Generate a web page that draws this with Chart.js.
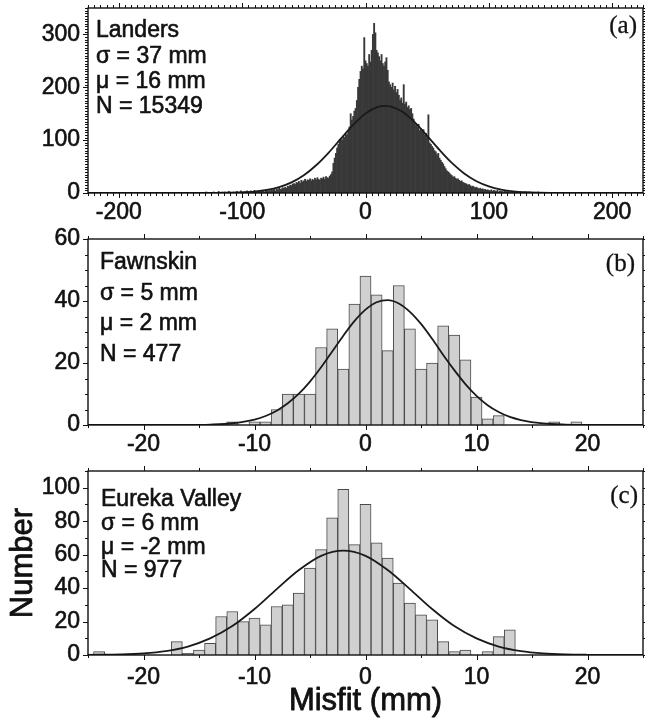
<!DOCTYPE html>
<html>
<head>
<meta charset="utf-8">
<script src="https://cdn.jsdelivr.net/npm/chart.js@4.4.1/dist/chart.umd.min.js"></script>
<style>
  html, body { margin: 0; padding: 0; background: #fff; }
  #wrap { position: relative; width: 645px; height: 719px; overflow: hidden; background: #fff; }
  #wrap canvas { position: absolute; left: 0; }
</style>
</head>
<body>
<div id="wrap">
  <canvas id="panelA" width="645" height="225" style="top:0px"></canvas>
  <canvas id="panelB" width="645" height="231" style="top:225px"></canvas>
  <canvas id="panelC" width="645" height="263" style="top:456px"></canvas>
</div>
<script>
// ---------- Landers (1 mm bins, first bin centred on -135 mm) ----------
const landersFirstBin = -135;
const landersCounts = [
  0,1,0,0,1,0,2,0,1,0,
  1,0,2,1,0,1,3,1,0,2,
  1,2,0,1,3,2,1,0,2,1,
  2,3,1,2,4,2,1,3,2,4,
  3,2,4,1,3,5,2,3,4,2,
  4,3,5,2,4,6,3,5,4,6,
  5,7,4,8,6,9,7,8,10,9,
  11,9,13,12,15,14,17,18,16,20,
  19,22,18,24,21,23,26,22,25,24,
  27,23,26,24,28,25,29,26,24,28,
  27,30,26,31,29,28,32,35,40,56,
  66,75,85,92,98,103,100,108,105,112,
  110,118,125,150,138,145,155,160,175,200,
  215,230,240,235,294,250,245,240,262,248,
  270,300,321,303,270,265,258,250,262,245,
  240,248,256,232,210,205,200,208,195,202,
  190,196,185,176,180,170,205,168,172,162,
  165,158,160,150,140,132,128,125,130,118,
  122,115,120,110,113,105,148,95,92,88,
  85,80,78,72,75,66,62,58,55,50,
  46,42,40,38,35,33,30,31,28,26,
  27,24,22,23,20,19,18,17,15,16,
  14,12,13,11,10,11,9,8,9,7,
  8,6,7,5,6,5,4,6,3,5,
  4,3,5,2,4,3,3,2,4,2,
  3,2,1,3,2,2,1,3,1,2,
  1,2,1,0,2,1,1,0,2,1,
  1,0,1,1,0,2,0,1,0,1,
  0,1,0,0,1,0,1,0,0,1,
  0,0,1,0,0,1,0,0,0,1,
  0,0,0,1,0,0,0,0,1,0
];
const landersBins = landersCounts.map((_, i) => landersFirstBin + i);
const landersFitX = [-225,-200,-180,-160,-140,-130,-120,-110,-100,-90,-80,-70,-60,-50,-40,-30,-20,-10,0,10,16,20,30,40,50,60,70,80,90,100,110,120,130,140,150,160,180,200,225];
const landersFitY = [0,0,0,0,0.02,0.07,0.19,0.5,1.2,2.7,5.7,11.1,20.0,33.6,52.5,76.1,102.7,128.7,150.3,162.8,165,164.0,153.6,133.7,108.1,81.4,56.9,37.0,22.3,12.6,6.5,3.1,1.4,0.6,0.23,0.08,0,0,0];
const landersText = ['Landers', 'σ = 37 mm', 'μ = 16 mm', 'N = 15349'];
const landersXTicks = [-200, -100, 0, 100, 200];
const landersYTicks = [0, 100, 200, 300];

// ---------- Fawnskin ----------
const fawnBins   = [-12,-10,-9,-8,-7,-6,-5,-4,-3,-2,-1,0,1,2,3,4,5,6,7,8,9,10,11,12,17,19];
const fawnCounts = [1,1,1,5,10,10,10,25,31,18,39,48,42,24,45,31,18,20,32,29,21,9,2,3,1,1];
const fawnFitX = [-25,-20,-16,-14,-12,-10,-9,-8,-7,-6,-5,-4,-3,-2,-1,0,1,2,3,4,5,6,7,8,9,10,11,12,13,14,16,18,20,25];
const fawnFitY = [0,0,0.03,0.15,0.56,1.75,2.9,4.6,7.0,10.1,14.0,18.6,23.7,28.8,33.5,37.2,39.6,40.3,39.2,36.5,32.6,27.8,22.6,17.7,13.2,9.4,6.4,4.2,2.6,1.6,0.5,0.13,0.03,0];
const fawnText = ['Fawnskin', 'σ = 5 mm', 'μ = 2 mm', 'N = 477'];
const fawnXTicks = [-20, -10, 0, 10, 20];
const fawnYTicks = [0, 20, 40, 60];

// ---------- Eureka Valley ----------
const eurekaBins   = [-24,-17,-16,-15,-14,-13,-12,-11,-10,-9,-8,-7,-6,-5,-4,-3,-2,-1,0,1,2,3,4,5,6,7,8,9,11,12,13];
const eurekaCounts = [2,8,1,3,7,23,26,20,22,18,29,30,37,52,63,82,99,66,90,67,58,43,31,24,21,8,2,3,2,11,15];
const eurekaFitX = [-25,-22,-20,-18,-16,-14,-12,-10,-8,-6,-4,-2,0,2,4,6,8,10,12,14,16,18,20,22,25];
const eurekaFitY = [0.1,0.37,0.98,2.35,5.07,9.9,17.3,27.5,39.4,50.8,59.3,62.4,59.3,50.8,39.4,27.5,17.3,9.9,5.07,2.35,0.98,0.37,0.13,0.04,0];
const eurekaText = ['Eureka Valley', 'σ = 6 mm', 'μ = -2 mm', 'N = 977'];
const eurekaXTicks = [-20, -10, 0, 10, 20];
const eurekaYTicks = [0, 20, 40, 60, 80, 100];

const SANS = "'Liberation Sans', Arial, Helvetica, sans-serif";
const SERIF = "'Liberation Serif', 'Times New Roman', serif";
const INK = '#111';
const TEXT_STROKE = 0.6;

// Box frame around the plot area plus outward major/minor tick marks on all four sides.
const frameTicks = {
  id: 'frameTicks',
  afterDatasetsDraw(chart, args, o) {
    const { ctx, chartArea: a, scales: { x, y } } = chart;
    ctx.save();
    ctx.strokeStyle = INK;
    ctx.lineWidth = 1;
    const seg = (x1, y1, x2, y2) => { ctx.beginPath(); ctx.moveTo(x1, y1); ctx.lineTo(x2, y2); ctx.stroke(); };
    const isMajor = (v, step) => Math.abs(Math.round(v / step) * step - v) < 1e-6;
    for (let v = x.min; v <= x.max + 1e-9; v += o.xMinor) {
      const vv = Math.round(v * 1000) / 1000;
      if (Math.abs(vv % o.xMinor) > 1e-6) continue;
      const px = Math.round(x.getPixelForValue(vv)) + 0.5;
      const len = isMajor(vv, o.xMajor) ? o.majorLen : o.minorLen;
      seg(px, a.bottom, px, a.bottom + len);
      seg(px, a.top, px, a.top - len);
    }
    for (let v = y.min; v <= y.max + 1e-9; v += o.yMinor) {
      const py = Math.round(y.getPixelForValue(v)) + 0.5;
      const len = isMajor(v, o.yMajor) ? o.majorLen : o.minorLen;
      seg(a.left, py, a.left - len, py);
      seg(a.right, py, a.right + len, py);
    }
    ctx.lineWidth = 1.4;
    ctx.strokeRect(a.left, a.top, a.right - a.left, a.bottom - a.top);
    ctx.restore();
  }
};

// Site statistics block (top-left), panel tag (top-right) and the shared axis titles.
const panelText = {
  id: 'panelText',
  afterDraw(chart, args, o) {
    const { ctx, chartArea: a } = chart;
    const put = (t, x, y) => { ctx.strokeText(t, x, y); ctx.fillText(t, x, y); };
    ctx.save();
    ctx.fillStyle = INK;
    ctx.strokeStyle = INK;
    ctx.lineWidth = TEXT_STROKE;
    ctx.lineJoin = 'round';
    ctx.textBaseline = 'middle';
    ctx.textAlign = 'left';
    ctx.font = `23px ${SANS}`;
    o.lines.forEach((t, i) => put(t, a.left + o.dx, a.top + o.dy + i * o.gap));
    ctx.textAlign = 'right';
    ctx.lineWidth = 0.3;
    ctx.font = `25px ${SERIF}`;
    put(o.tag, a.right - o.tagDx, a.top + o.tagDy);
    ctx.lineWidth = TEXT_STROKE + 0.2;
    ctx.font = `31px ${SANS}`;
    ctx.textAlign = 'center';
    if (o.xTitle) put(o.xTitle, (a.left + a.right) / 2, a.bottom + o.xTitleDy);
    if (o.yTitle) {
      ctx.translate(o.yTitleX, (a.top + a.bottom) / 2);
      ctx.rotate(-Math.PI / 2);
      put(o.yTitle, 0, 0);
    }
    ctx.restore();
  }
};

function histogramPanel(id, c) {
  const tickFont = { family: SANS, size: 23 };
  return new Chart(document.getElementById(id), {
    type: 'bar',
    data: {
      datasets: [
        {
          type: 'line',
          data: c.fitX.map((x, i) => ({ x, y: c.fitY[i] })),
          borderColor: '#1a1a1a',
          borderWidth: 1.8,
          pointRadius: 0,
          cubicInterpolationMode: 'monotone',
          fill: false,
          order: 0
        },
        {
          type: 'bar',
          data: c.bins.map((x, i) => ({ x, y: c.counts[i] })),
          backgroundColor: c.barFill,
          borderColor: c.barEdge,
          borderWidth: c.barEdgeWidth,
          barPercentage: 1,
          categoryPercentage: 1,
          order: 1
        }
      ]
    },
    plugins: [frameTicks, panelText],
    options: {
      responsive: false,
      animation: false,
      devicePixelRatio: 1,
      layout: { padding: { top: c.padTop, right: 2, left: 0, bottom: 0 } },
      plugins: {
        legend: { display: false },
        tooltip: { enabled: false },
        frameTicks: c.tickMarks,
        panelText: c.label
      },
      scales: {
        x: {
          type: 'linear',
          min: c.xMin, max: c.xMax,
          offset: false,
          grid: { display: false, drawTicks: false },
          border: { display: false },
          ticks: {
            font: tickFont, color: INK, padding: c.xTickPad,
            textStrokeColor: INK, textStrokeWidth: TEXT_STROKE,
            autoSkip: false, maxRotation: 0, callback: v => String(v)
          },
          afterBuildTicks: s => { s.ticks = c.xTicks.map(v => ({ value: v })); },
          afterFit: s => { s.height = c.xHeight; s.paddingLeft = 0; s.paddingRight = 0; }
        },
        y: {
          min: 0, max: c.yMax,
          grid: { display: false, drawTicks: false },
          border: { display: false },
          ticks: {
            font: tickFont, color: INK, padding: 8,
            textStrokeColor: INK, textStrokeWidth: TEXT_STROKE,
            autoSkip: false, callback: v => String(v)
          },
          afterBuildTicks: s => { s.ticks = c.yTicks.map(v => ({ value: v })); },
          afterFit: s => { s.width = 88; s.paddingTop = 0; s.paddingBottom = 0; }
        }
      }
    }
  });
}

histogramPanel('panelA', {
  bins: landersBins, counts: landersCounts, fitX: landersFitX, fitY: landersFitY,
  barFill: '#383838', barEdge: '#383838', barEdgeWidth: 0,
  xMin: -225, xMax: 225, yMax: 350, xTicks: landersXTicks, yTicks: landersYTicks,
  padTop: 8, xHeight: 32, xTickPad: 6,
  tickMarks: { xMinor: 5, xMajor: 100, yMinor: 5, yMajor: 100, majorLen: 5, minorLen: 3 },
  label: { lines: landersText, dx: 8, dy: 23, gap: 25.3, tag: '(a)', tagDx: 6, tagDy: 18 }
});

histogramPanel('panelB', {
  bins: fawnBins, counts: fawnCounts, fitX: fawnFitX, fitY: fawnFitY,
  barFill: '#d0d0d0', barEdge: '#4a4a4a', barEdgeWidth: 1,
  xMin: -25, xMax: 25, yMax: 60, xTicks: fawnXTicks, yTicks: fawnYTicks,
  padTop: 14, xHeight: 31, xTickPad: 6,
  tickMarks: { xMinor: 5, xMajor: 10, yMinor: 5, yMajor: 20, majorLen: 5, minorLen: 3 },
  label: { lines: fawnText, dx: 12, dy: 24, gap: 30.5, tag: '(b)', tagDx: 8, tagDy: 25 }
});

histogramPanel('panelC', {
  bins: eurekaBins, counts: eurekaCounts, fitX: eurekaFitX, fitY: eurekaFitY,
  barFill: '#d0d0d0', barEdge: '#4a4a4a', barEdgeWidth: 1,
  xMin: -25, xMax: 25, yMax: 110, xTicks: eurekaXTicks, yTicks: eurekaYTicks,
  padTop: 15, xHeight: 64, xTickPad: 9,
  tickMarks: { xMinor: 5, xMajor: 10, yMinor: 10, yMajor: 20, majorLen: 5, minorLen: 3 },
  label: {
    lines: eurekaText, dx: 13, dy: 29, gap: 23.7, tag: '(c)', tagDx: 5, tagDy: 25,
    xTitle: 'Misfit (mm)', xTitleDy: 46, yTitle: 'Number', yTitleX: 23
  }
});
</script>
</body>
</html>
